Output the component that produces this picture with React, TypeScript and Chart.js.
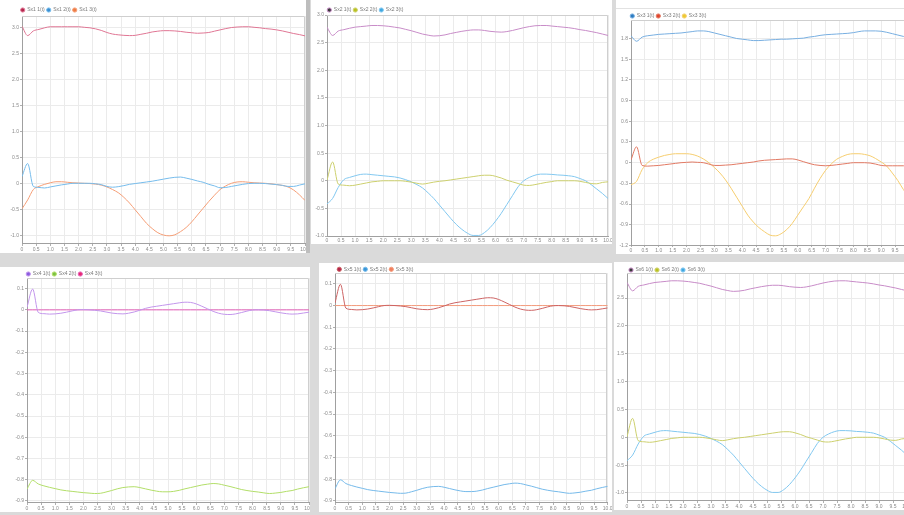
import React, { useEffect, useRef } from "react";
import { Chart, registerables } from "chart.js";

Chart.register(...registerables);

// ---------- data ----------
const xValues = [0,0.2,0.4,0.6,0.8,1,1.2,1.4,1.6,1.8,2,2.2,2.4,2.6,2.8,3,3.2,3.4,3.6,3.8,4,4.2,4.4,4.6,4.8,5,5.2,5.4,5.6,5.8,6,6.2,6.4,6.6,6.8,7,7.2,7.4,7.6,7.8,8,8.2,8.4,8.6,8.8,9,9.2,9.4,9.6,9.8,10];
const xTicks = [0,0.5,1,1.5,2,2.5,3,3.5,4,4.5,5,5.5,6,6.5,7,7.5,8,8.5,9,9.5,10];

// panel 1
const p1Top = [3.02,2.84,2.93,2.96,2.99,3.01,3.01,3.01,3.01,3.01,3.01,3.0,2.99,2.97,2.94,2.90,2.87,2.855,2.845,2.84,2.845,2.865,2.885,2.91,2.925,2.935,2.935,2.93,2.92,2.905,2.895,2.885,2.89,2.90,2.925,2.95,2.975,2.995,3.005,3.01,3.01,3.0,2.99,2.975,2.965,2.95,2.93,2.905,2.88,2.86,2.835];
const p1Spike = [0.13,0.38,-0.06,-0.08,-0.09,-0.07,-0.05,-0.03,-0.015,0,0,0,0,-0.01,-0.025,-0.06,-0.075,-0.065,-0.045,-0.02,-0.005,0.01,0.025,0.04,0.06,0.08,0.1,0.115,0.12,0.1,0.075,0.045,0.02,-0.02,-0.05,-0.085,-0.08,-0.06,-0.04,-0.02,-0.005,0,0,-0.005,-0.015,-0.025,-0.04,-0.06,-0.06,-0.035,-0.01];
const p1Dip = [-0.49,-0.32,-0.12,-0.06,-0.02,0.01,0.03,0.03,0.02,0.01,0.005,0,-0.005,-0.015,-0.035,-0.07,-0.12,-0.18,-0.27,-0.38,-0.51,-0.64,-0.77,-0.87,-0.95,-0.995,-1.01,-0.99,-0.93,-0.85,-0.74,-0.61,-0.48,-0.35,-0.23,-0.12,-0.05,0,0.025,0.03,0.02,0.01,0.005,0,-0.01,-0.025,-0.04,-0.07,-0.13,-0.22,-0.33];
const p1Labels = ["Sx1 1(t)", "Sx1 2(t)", "Sx1 3(t)"];
const p1YTicks = [-1,-0.5,0,0.5,1,1.5,2,2.5,3];

// panel 2 (and 6)
const p2Top = [2.78,2.63,2.71,2.735,2.76,2.78,2.79,2.80,2.81,2.81,2.805,2.795,2.78,2.765,2.74,2.715,2.685,2.655,2.635,2.62,2.625,2.64,2.665,2.685,2.705,2.72,2.73,2.73,2.72,2.705,2.695,2.69,2.70,2.72,2.745,2.77,2.79,2.805,2.81,2.81,2.80,2.79,2.78,2.77,2.755,2.735,2.72,2.70,2.68,2.655,2.63];
const p2Spike = [0.01,0.34,-0.06,-0.08,-0.09,-0.08,-0.06,-0.04,-0.02,-0.01,0,0,0,0,-0.01,-0.025,-0.045,-0.06,-0.045,-0.025,-0.01,0,0.015,0.03,0.045,0.06,0.075,0.09,0.1,0.1,0.08,0.05,0.01,-0.02,-0.05,-0.08,-0.085,-0.07,-0.05,-0.03,-0.015,0,0,0,0,-0.01,-0.03,-0.05,-0.055,-0.03,-0.02];
const p2Dip = [-0.42,-0.32,-0.12,0.02,0.06,0.09,0.115,0.12,0.11,0.10,0.09,0.08,0.07,0.05,0.02,-0.02,-0.07,-0.13,-0.22,-0.32,-0.44,-0.56,-0.68,-0.79,-0.88,-0.95,-0.99,-0.99,-0.94,-0.85,-0.73,-0.59,-0.43,-0.27,-0.11,0,0.06,0.1,0.12,0.12,0.115,0.105,0.1,0.09,0.075,0.04,0,-0.07,-0.15,-0.23,-0.32];
const p2Labels = ["Sx2 1(t)", "Sx2 2(t)", "Sx2 3(t)"];
const p2YTicks = [-1,-0.5,0,0.5,1,1.5,2,2.5,3];
const p6YTicks = [-1,-0.5,0,0.5,1,1.5,2,2.5];
const p6Labels = ["Sx6 1(t)", "Sx6 2(t)", "Sx6 3(t)"];

// panel 3
const p3Top = [1.84,1.76,1.82,1.84,1.85,1.86,1.865,1.87,1.875,1.88,1.89,1.90,1.91,1.91,1.90,1.88,1.86,1.84,1.82,1.80,1.79,1.78,1.77,1.77,1.775,1.78,1.785,1.79,1.79,1.795,1.80,1.805,1.82,1.83,1.845,1.855,1.86,1.865,1.87,1.875,1.885,1.90,1.91,1.91,1.91,1.905,1.89,1.87,1.85,1.83,1.81];
const p3Spike = [0.04,0.23,-0.04,-0.05,-0.045,-0.04,-0.03,-0.02,-0.01,0,0.005,0.01,0.005,0,-0.02,-0.04,-0.04,-0.035,-0.03,-0.02,-0.01,0,0.01,0.025,0.035,0.04,0.045,0.05,0.055,0.055,0.04,0.015,-0.01,-0.03,-0.04,-0.045,-0.04,-0.03,-0.02,-0.01,0,0,0,-0.005,-0.02,-0.04,-0.045,-0.045,-0.045,-0.045,-0.04];
const p3Dip = [-0.32,-0.27,-0.1,0,0.05,0.08,0.105,0.12,0.13,0.13,0.13,0.12,0.095,0.055,0,-0.07,-0.15,-0.25,-0.37,-0.5,-0.63,-0.76,-0.86,-0.94,-1.0,-1.05,-1.06,-1.03,-0.97,-0.88,-0.76,-0.64,-0.52,-0.37,-0.23,-0.11,-0.02,0.05,0.09,0.12,0.13,0.13,0.12,0.1,0.06,0.01,-0.05,-0.15,-0.26,-0.39,-0.5];
const p3Labels = ["Sx3 1(t)", "Sx3 2(t)", "Sx3 3(t)"];
const p3YTicks = [-1.2,-0.9,-0.6,-0.3,0,0.3,0.6,0.9,1.2,1.5,1.8];

// panel 4 (and 5)
const p4Spike = [0.012,0.098,-0.012,-0.018,-0.02,-0.019,-0.016,-0.011,-0.005,0,0.001,0,-0.002,-0.005,-0.01,-0.015,-0.018,-0.019,-0.016,-0.01,-0.002,0.007,0.013,0.017,0.021,0.025,0.029,0.033,0.036,0.035,0.028,0.017,0.005,-0.007,-0.016,-0.021,-0.022,-0.019,-0.013,-0.006,-0.001,0,-0.001,-0.004,-0.009,-0.014,-0.018,-0.02,-0.019,-0.015,-0.011];
const p4Low = [-0.844,-0.803,-0.82,-0.829,-0.836,-0.842,-0.848,-0.852,-0.855,-0.858,-0.861,-0.863,-0.865,-0.864,-0.858,-0.851,-0.843,-0.837,-0.834,-0.833,-0.837,-0.843,-0.849,-0.854,-0.857,-0.857,-0.855,-0.85,-0.843,-0.837,-0.831,-0.825,-0.821,-0.818,-0.82,-0.826,-0.832,-0.839,-0.846,-0.851,-0.855,-0.858,-0.862,-0.865,-0.863,-0.86,-0.855,-0.851,-0.844,-0.838,-0.833];
const p4Zero = [0,0,0,0,0,0,0,0,0,0,0,0,0,0,0,0,0,0,0,0,0,0,0,0,0,0,0,0,0,0,0,0,0,0,0,0,0,0,0,0,0,0,0,0,0,0,0,0,0,0,0];
const p4Labels = ["Sx4 1(t)", "Sx4 2(t)", "Sx4 3(t)"];
const p5Labels = ["Sx5 1(t)", "Sx5 2(t)", "Sx5 3(t)"];
const p4YTicks = [-0.9,-0.8,-0.7,-0.6,-0.5,-0.4,-0.3,-0.2,-0.1,0,0.1];

// ---------- layout / style ----------
type Series = { label: string; data: number[]; line: string; dot: string };
type PanelCfg = {
  box: [number, number, number, number];
  canvas: [number, number, number, number];
  plot: [number, number, number, number];
  legendX: number;
  legendY: number;
  xTickLen: number;
  yMin: number;
  yMax: number;
  yTicks: number[];
  series: Series[];
};

const FONT = "'Liberation Sans', Arial, sans-serif";
const TICK_COLOR = "#8a8a8a";

const panels: PanelCfg[] = [
  {
    box: [0, 0, 306, 253], canvas: [0, 0, 306, 253], plot: [22, 16, 305, 243], xTickLen: 3,
    legendX: 22.7, legendY: 10, yMin: -1.148, yMax: 3.217, yTicks: p1YTicks,
    series: [
      { label: p1Labels[0], data: p1Top, line: "rgb(224,118,148)", dot: "#b3264d" },
      { label: p1Labels[1], data: p1Spike, line: "rgb(118,188,236)", dot: "#3b8fd2" },
      { label: p1Labels[2], data: p1Dip, line: "rgb(245,158,118)", dot: "#ee7c44" },
    ],
  },
  {
    box: [311, 0, 301, 244], canvas: [311, 0, 301, 244], plot: [327, 15, 608, 236], xTickLen: 1,
    legendX: 329.3, legendY: 10, yMin: -1.0, yMax: 3.0, yTicks: p2YTicks,
    series: [
      { label: p2Labels[0], data: p2Top, line: "rgb(200,140,200)", dot: "#3a3a3a" },
      { label: p2Labels[1], data: p2Spike, line: "rgb(205,208,110)", dot: "#b9c21e" },
      { label: p2Labels[2], data: p2Dip, line: "rgb(130,200,240)", dot: "#3fa7e0" },
    ],
  },
  {
    box: [616, 0, 288, 254], canvas: [616, 0, 303, 254], plot: [631, 20.7, 909, 245], xTickLen: 2,
    legendX: 632.3, legendY: 16, yMin: -1.193, yMax: 2.058, yTicks: p3YTicks,
    series: [
      { label: p3Labels[0], data: p3Top, line: "rgb(120,175,225)", dot: "#2b7bc0" },
      { label: p3Labels[1], data: p3Spike, line: "rgb(226,122,100)", dot: "#e0452e" },
      { label: p3Labels[2], data: p3Dip, line: "rgb(246,206,112)", dot: "#eccb30" },
    ],
  },
  {
    box: [0, 267, 310, 245], canvas: [0, 267, 310, 245], plot: [27, 278, 309, 502], xTickLen: 3,
    legendX: 28.3, legendY: 274, yMin: -0.905, yMax: 0.15, yTicks: p4YTicks,
    series: [
      { label: p4Labels[0], data: p4Spike, line: "rgb(195,150,236)", dot: "#8a5ce0" },
      { label: p4Labels[1], data: p4Low, line: "rgb(178,222,104)", dot: "#7cc242" },
      { label: p4Labels[2], data: p4Zero, line: "rgb(230,96,186)", dot: "#e8286e" },
    ],
  },
  {
    box: [319, 263, 293, 249], canvas: [319, 263, 293, 249], plot: [335, 273, 607.7, 502], xTickLen: 3,
    legendX: 339.3, legendY: 269.3, yMin: -0.905, yMax: 0.15, yTicks: p4YTicks,
    series: [
      { label: p5Labels[0], data: p4Spike, line: "rgb(205,100,100)", dot: "#b3264d" },
      { label: p5Labels[1], data: p4Low, line: "rgb(118,186,234)", dot: "#3b97d8" },
      { label: p5Labels[2], data: p4Zero, line: "rgb(244,156,124)", dot: "#ef7e5e" },
    ],
  },
  {
    box: [614, 262, 290, 248], canvas: [614, 262, 303, 248], plot: [627, 273, 907, 500], xTickLen: 3,
    legendX: 631, legendY: 270, yMin: -1.126, yMax: 2.95, yTicks: p6YTicks,
    series: [
      { label: p6Labels[0], data: p2Top, line: "rgb(200,140,200)", dot: "#3a3a3a" },
      { label: p6Labels[1], data: p2Spike, line: "rgb(205,208,110)", dot: "#b9c21e" },
      { label: p6Labels[2], data: p2Dip, line: "rgb(130,200,240)", dot: "#3fa7e0" },
    ],
  },
];

const fmt = (v: number) => (Math.abs(v) < 1e-9 ? "0" : v.toFixed(1));

const framePlugin = {
  id: "frame",
  beforeDatasetsDraw(chart: any) {
    const { ctx, chartArea: a } = chart;
    ctx.save();
    ctx.strokeStyle = "#cfcfcf";
    ctx.lineWidth = 1;
    ctx.beginPath();
    ctx.moveTo(a.left, Math.floor(a.top) + 0.5);
    ctx.lineTo(Math.floor(a.right) - 0.5, Math.floor(a.top) + 0.5);
    ctx.lineTo(Math.floor(a.right) - 0.5, a.bottom);
    ctx.stroke();
    ctx.restore();
  },
};

function Panel({ cfg }: { cfg: PanelCfg }) {
  const ref = useRef<HTMLCanvasElement>(null);
  const [cl, ct, cw, ch] = cfg.canvas;
  const [bl, bt, bw, bh] = cfg.box;
  useEffect(() => {
    const P = 2, FS = 5, BW = 4, YTL = 2;
    const [pl, pt, pr, pb] = cfg.plot;
    const padL = 0;
    const yW = pl - cl - padL;
    const legendLeft = cfg.legendX - cl - P - BW / 2;
    const padT = cfg.legendY - ct - P - FS / 2;
    const legH = pt - ct - padT;
    const padR = cl + cw - pr;
    const xH = ct + ch - pb;
    const tickFont = { size: 5, family: FONT };
    const legendShift = {
      id: "legendShift",
      afterLayout(chart: any) {
        if (chart.legend) chart.legend.left = legendLeft;
      },
    };
    const chart = new Chart(ref.current as HTMLCanvasElement, {
      type: "line",
      data: {
        datasets: cfg.series.map((s) => ({
          label: s.label,
          data: xValues.map((x, i) => ({ x, y: s.data[i] })),
          borderColor: s.line,
          backgroundColor: s.dot,
          borderWidth: 1,
          pointRadius: 0,
          cubicInterpolationMode: "monotone" as const,
          fill: false,
        })),
      },
      options: {
        animation: false,
        responsive: false,
        maintainAspectRatio: false,
        devicePixelRatio: 1,
        layout: { padding: { left: padL, top: padT, right: padR, bottom: 0 } },
        plugins: {
          legend: {
            position: "top",
            align: "start",
            maxHeight: legH,
            labels: {
              usePointStyle: true,
              pointStyle: "circle",
              boxWidth: BW,
              boxHeight: 3,
              padding: P,
              color: "#7a7a7a",
              font: { size: FS, family: FONT },
            },
          },
          tooltip: { enabled: false },
        },
        scales: {
          x: {
            type: "linear",
            min: 0,
            max: 10,
            afterBuildTicks: (s: any) => { s.ticks = xTicks.map((v) => ({ value: v })); },
            afterFit: (s: any) => { s.height = xH; s.paddingLeft = 0; s.paddingRight = 0; },
            ticks: { font: tickFont, color: TICK_COLOR, padding: 1, maxRotation: 0, autoSkip: false, callback: (v: any) => fmt(Number(v)) },
            grid: { color: "#ebebeb", tickLength: cfg.xTickLen, tickColor: "#b0b0b0" },
            border: { color: "#a0a0a0" },
          },
          y: {
            type: "linear",
            min: cfg.yMin,
            max: cfg.yMax,
            afterBuildTicks: (s: any) => { s.ticks = cfg.yTicks.map((v) => ({ value: v })); },
            afterFit: (s: any) => { s.width = yW; s.paddingTop = 0; s.paddingBottom = 0; },
            ticks: { font: tickFont, color: TICK_COLOR, padding: 1, autoSkip: false, callback: (v: any) => fmt(Number(v)) },
            grid: { color: "#ebebeb", tickLength: YTL, tickColor: "#b0b0b0" },
            border: { color: "#a0a0a0" },
          },
        },
      },
      plugins: [framePlugin, legendShift],
    } as any);
    return () => chart.destroy();
  }, []);
  return (
    <div style={{ position: "absolute", left: bl, top: bt, width: bw, height: bh, background: "#fff", overflow: "hidden" }}>
      <canvas ref={ref} width={cw} height={ch} style={{ position: "absolute", left: cl - bl, top: ct - bt, width: cw, height: ch }} />
    </div>
  );
}

export default function App() {
  return (
    <div style={{ position: "fixed", left: 0, top: 0, width: 904, height: 515, background: "#dadada", overflow: "hidden" }}>
      {panels.map((p, i) => <Panel key={i} cfg={p} />)}
      <div style={{ position: "absolute", left: 306, top: 0, width: 4, height: 253, background: "#bdbdbd" }} />
      <div style={{ position: "absolute", left: 616, top: 8, width: 288, height: 1, background: "#e2e2e2" }} />
    </div>
  );
}
